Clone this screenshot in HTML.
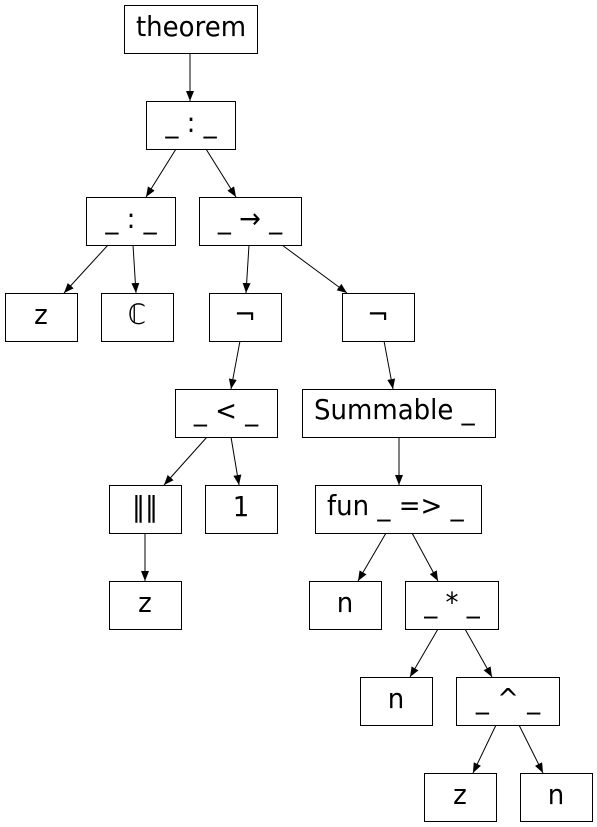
<!DOCTYPE html>
<html><head><meta charset="utf-8"><style>
html,body{margin:0;padding:0;background:#fff;}
svg{display:block;}
text{font-family:"DejaVu Sans","Liberation Sans",sans-serif;font-size:28px;fill:#000;}
rect{fill:#fff;stroke:#000;stroke-width:1;}
line{stroke:#000;stroke-width:1;}
</style></head><body>
<svg width="597" height="827" viewBox="0 0 597 827" xmlns="http://www.w3.org/2000/svg">
<defs><marker id="a" markerWidth="10" markerHeight="8" refX="10" refY="4" orient="auto" markerUnits="userSpaceOnUse"><path d="M0,0 L10,4 L0,8 Z" fill="#000"/></marker></defs>
<g marker-end="url(#a)">
<line x1="190" y1="53" x2="190" y2="101"/>
<line x1="176" y1="149" x2="146" y2="197"/>
<line x1="206" y1="149" x2="236" y2="197"/>
<line x1="108" y1="245" x2="64" y2="293"/>
<line x1="133" y1="245" x2="136" y2="293"/>
<line x1="249" y1="245" x2="246" y2="293"/>
<line x1="282" y1="245" x2="347" y2="293"/>
<line x1="240" y1="341" x2="231" y2="389"/>
<line x1="384" y1="341" x2="393" y2="389"/>
<line x1="207" y1="437" x2="164" y2="485"/>
<line x1="231" y1="437" x2="239" y2="485"/>
<line x1="399" y1="437" x2="399" y2="485"/>
<line x1="145" y1="533" x2="145" y2="581"/>
<line x1="386" y1="533" x2="358" y2="581"/>
<line x1="412" y1="533" x2="438" y2="581"/>
<line x1="438" y1="629" x2="410" y2="677"/>
<line x1="465" y1="629" x2="492" y2="677"/>
<line x1="496" y1="725" x2="473" y2="773"/>
<line x1="519" y1="725" x2="543" y2="773"/>
</g>
<rect x="124.5" y="5.5" width="133" height="48"/>
<rect x="146.5" y="101.5" width="89" height="48"/>
<rect x="86.5" y="197.5" width="89" height="48"/>
<rect x="199.5" y="197.5" width="102" height="48"/>
<rect x="5.5" y="293.5" width="72" height="48"/>
<rect x="101.5" y="293.5" width="72" height="48"/>
<rect x="209.5" y="293.5" width="72" height="48"/>
<rect x="342.5" y="293.5" width="72" height="48"/>
<rect x="175.5" y="389.5" width="102" height="48"/>
<rect x="302.5" y="389.5" width="193" height="48"/>
<rect x="109.5" y="485.5" width="72" height="48"/>
<rect x="205.5" y="485.5" width="72" height="48"/>
<rect x="315.5" y="485.5" width="166" height="48"/>
<rect x="109.5" y="581.5" width="72" height="48"/>
<rect x="309.5" y="581.5" width="72" height="48"/>
<rect x="405.5" y="581.5" width="93" height="48"/>
<rect x="360.5" y="677.5" width="72" height="48"/>
<rect x="456.5" y="677.5" width="103" height="48"/>
<rect x="424.5" y="773.5" width="72" height="48"/>
<rect x="520.5" y="773.5" width="72" height="48"/>
<g text-anchor="middle">
<g transform="translate(191,36) scale(0.93,1)"><text>theorem</text></g>
<g transform="translate(191,132) scale(0.93,1)"><text>_ : _</text></g>
<g transform="translate(131,228) scale(0.93,1)"><text>_ : _</text></g>
<g transform="translate(250,228) scale(0.93,1)"><text>_ → _</text></g>
<g transform="translate(41,324) scale(0.93,1)"><text>z</text></g>
<g transform="translate(137,324) scale(0.93,1)"><text>ℂ</text></g>
<g transform="translate(245,324) scale(0.93,1)"><text>¬</text></g>
<g transform="translate(378,324) scale(0.93,1)"><text>¬</text></g>
<g transform="translate(226,420) scale(0.93,1)"><text>_ &lt; _</text></g>
<g transform="translate(145,516) scale(0.93,1)"><text>‖‖</text></g>
<g transform="translate(241,516) scale(0.93,1)"><text>1</text></g>
<g transform="translate(145,612) scale(0.93,1)"><text>z</text></g>
<g transform="translate(345,612) scale(0.93,1)"><text>n</text></g>
<g transform="translate(452,612) scale(0.93,1)"><text>_ * _</text></g>
<g transform="translate(396,708) scale(0.93,1)"><text>n</text></g>
<g transform="translate(508,708) scale(0.93,1)"><text>_ ^ _</text></g>
<g transform="translate(460,804) scale(0.93,1)"><text>z</text></g>
<g transform="translate(556,804) scale(0.93,1)"><text>n</text></g>
</g>
<g transform="translate(314,419) scale(0.93,1)"><text>Summable _</text></g>
<g transform="translate(327,515) scale(0.93,1)"><text>fun _ =&gt; _</text></g>
</svg>
</body></html>
